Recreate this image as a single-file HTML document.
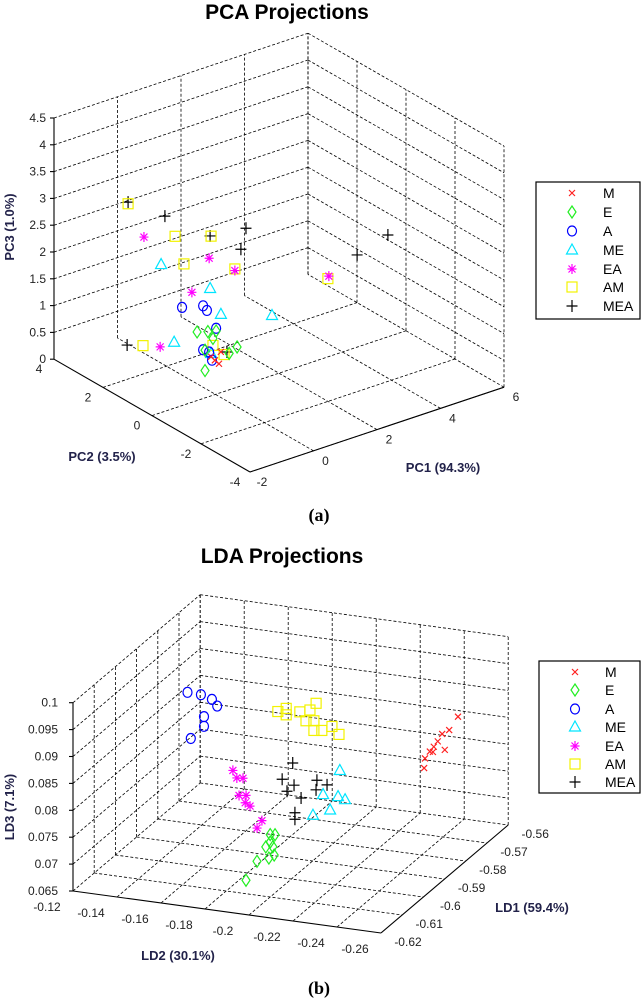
<!DOCTYPE html>
<html><head><meta charset="utf-8"><style>
body{margin:0;background:#fff}
svg{display:block}
text{font-family:"Liberation Sans",sans-serif}
.tk{font-size:12px;fill:#222}
.ttl{font-size:21px;font-weight:bold;fill:#000}
.al{font-size:13px;font-weight:bold;fill:#22224a}
.lg{font-size:14px;fill:#000}
.cap{font-family:"Liberation Serif",serif;font-size:18px;font-weight:bold}
</style></head><body>
<svg id="fig" width="642" height="1000" viewBox="0 0 642 1000" xmlns="http://www.w3.org/2000/svg">
<text class="ttl" x="287" y="19" text-anchor="middle">PCA Projections</text>
<text class="ttl" x="282" y="563" text-anchor="middle">LDA Projections</text>
<text class="cap" x="319" y="521" text-anchor="middle">(a)</text>
<text class="cap" x="319" y="994" text-anchor="middle">(b)</text>
<text class="al" x="443" y="472" text-anchor="middle">PC1 (94.3%)</text>
<text class="al" x="102" y="461" text-anchor="middle">PC2 (3.5%)</text>
<text class="al" x="0" y="0" text-anchor="middle" transform="translate(14,227) rotate(-90)">PC3 (1.0%)</text>
<text class="al" x="532" y="912" text-anchor="middle">LD1 (59.4%)</text>
<text class="al" x="178" y="960" text-anchor="middle">LD2 (30.1%)</text>
<text class="al" x="0" y="0" text-anchor="middle" transform="translate(14,807) rotate(-90)">LD3 (7.1%)</text>
<g id="pca"></g>
<g id="lda"></g>
</svg>
<script>
// ---- PCA data [PC1, PC2, PC3] ----
const classNames = ['M','E','A','ME','EA','AM','MEA'];
const pcaM = [[0.11,0,0.55],[-0.02,0,0.64],[0.17,0,0.76],[-0.14,0,0.73]];
const pcaE = [[-0.58,0,1.28],[-0.24,0,1.22],[0.02,0,1.18],[-0.33,0,0.89],[0.68,0,0.75],[-0.33,0,0.51],[0.43,0,0.68],[-0.08,0,1.06]];
const pcaA = [[0.49,2,1.00],[-0.39,0,1.73],[-0.27,0,1.62],[0.02,0,1.23],[-0.39,0,0.91],[-0.11,0,0.66],[-0.20,0,0.83]];
const pcaME = [[-0.17,2,1.93],[-0.17,0,2.01],[0.17,0,1.46],[1.78,0,1.12],[0.24,2,0.40],[-0.14,0,0.79]];
const pcaEA = [[-0.71,2,2.55],[-0.20,0,2.58],[0.61,0,2.19],[0.80,2,1.22],[3.57,0,1.50],[-0.20,2,0.40]];
const pcaAM = [[-1.21,2,3.27],[0.27,2,2.37],[-0.14,0,2.98],[0.55,2,1.80],[0.61,0,2.22],[3.54,0,1.46],[-0.74,2,0.53],[0.27,0,0.69],[-0.08,0,0.93]];
const pcaMEA = [[-1.21,2,3.30],[-0.05,2,2.81],[-0.17,0,2.99],[0.96,0,2.91],[0.80,0,2.55],[5.43,0,1.90],[4.46,0,1.72],[-1.24,2,0.64],[0.36,0,0.72]];
const pc1Ticks = [-2,0,2,4,6];
const pc2Ticks = [-4,-2,0,2,4];
const pc3Ticks = [0,0.5,1,1.5,2,2.5,3,3.5,4,4.5];
const pc3Labels = ['0','0.5','1','1.5','2','2.5','3','3.5','4','4.5'];
// ---- LDA data [LD1, LD2, LD3] ----
const ldaM = [[-0.565,-0.242,0.0858],[-0.565,-0.238,0.0831],[-0.565,-0.2348,0.0822],[-0.565,-0.2328,0.0807],[-0.565,-0.231,0.0796],[-0.565,-0.2292,0.0786],[-0.565,-0.227,0.0772],[-0.565,-0.2266,0.0754],[-0.565,-0.236,0.0793],[-0.565,-0.2306,0.0786]];
const ldaE = [[-0.61,-0.2,0.0766],[-0.61,-0.2022,0.0767],[-0.61,-0.2,0.0752],[-0.61,-0.2012,0.0744],[-0.61,-0.198,0.0742],[-0.61,-0.2018,0.0729],[-0.61,-0.1994,0.0722],[-0.61,-0.194,0.0713],[-0.61,-0.189,0.0675]];
const ldaA = [[-0.58,-0.1335,0.0893],[-0.58,-0.1396,0.0892],[-0.58,-0.1446,0.0886],[-0.58,-0.147,0.0875],[-0.58,-0.141,0.0852],[-0.58,-0.141,0.0834],[-0.58,-0.135,0.0808]];
const ldaME = [[-0.6,-0.222,0.0864],[-0.6,-0.2144,0.0815],[-0.6,-0.2212,0.0815],[-0.6,-0.2244,0.0811],[-0.6,-0.2176,0.0788],[-0.6,-0.2098,0.0774]];
const ldaEA = [[-0.6,-0.1734,0.0837],[-0.6,-0.1752,0.0824],[-0.6,-0.178,0.0825],[-0.6,-0.1762,0.0792],[-0.6,-0.1794,0.0794],[-0.6,-0.179,0.078],[-0.6,-0.1812,0.0775],[-0.6,-0.1866,0.0751],[-0.6,-0.1844,0.0736]];
const ldaAM = [[-0.59,-0.1842,0.0919],[-0.59,-0.188,0.0927],[-0.59,-0.188,0.0915],[-0.59,-0.1942,0.0924],[-0.59,-0.1988,0.093],[-0.59,-0.2016,0.0944],[-0.59,-0.197,0.0909],[-0.59,-0.2006,0.0911],[-0.59,-0.2006,0.0893],[-0.59,-0.2042,0.0895],[-0.59,-0.2088,0.0905],[-0.59,-0.212,0.0892]];
const ldaMEA = [[-0.6,-0.2006,0.0866],[-0.6,-0.1958,0.0833],[-0.6,-0.2012,0.0825],[-0.6,-0.198,0.0812],[-0.6,-0.2044,0.0803],[-0.6,-0.2116,0.084],[-0.6,-0.2162,0.0834],[-0.6,-0.2112,0.0822],[-0.6,-0.2016,0.0774],[-0.6,-0.2016,0.0762]];
const ld1Ticks = [-0.62,-0.61,-0.6,-0.59,-0.58,-0.57,-0.56];
const ld1Labels = ['-0.62','-0.61','-0.6','-0.59','-0.58','-0.57','-0.56'];
const ld2Ticks = [-0.12,-0.14,-0.16,-0.18,-0.2,-0.22,-0.24,-0.26];
const ld2Labels = ['-0.12','-0.14','-0.16','-0.18','-0.2','-0.22','-0.24','-0.26'];
const ld3Ticks = [0.065,0.07,0.075,0.08,0.085,0.09,0.095,0.1];
const ld3Labels = ['0.065','0.07','0.075','0.08','0.085','0.09','0.095','0.1'];

const NS = 'http://www.w3.org/2000/svg';
function mk(parent, tag, attrs){
  const e = document.createElementNS(NS, tag);
  for (const k in attrs) e.setAttribute(k, attrs[k]);
  parent.appendChild(e);
  return e;
}
function pcaP(a,b,z){ return [250 + 31.75*(a+2) - 24.5*(b+4), 472 - 10.6*(a+2) - 14.1*(b+4) - 53.6*z]; }
function ldaP(l1,l2,l3){ const u=(-0.12-l2)/0.02, v=(l1+0.62)/0.01, w=(l3-0.065)/0.005; return [73+44*u+21.2*v, 891+6*u-18*v-26.9*w]; }

function line(g, p, q, dashed, name){
  const e = mk(g,'line',{x1:p[0],y1:p[1],x2:q[0],y2:q[1],stroke:'#000','stroke-width':dashed?0.8:1.1,'stroke-dasharray':dashed?'3,2':'none'});
  
  
}
function txt(g, x, y, s, cls, anchor, name){
  const e = mk(g,'text',{x:x,y:y,'class':cls,'text-anchor':anchor});
  e.textContent = s;
  
  
}
const colors = {M:'#ff2020',E:'#22ee22',A:'#0000ff',ME:'#00e5ff',EA:'#ff00ff',AM:'#f2f200',MEA:'#000'};
function marker(g, cls, x, y, name){
  const m = mk(g,'g',{stroke:colors[cls],fill:'none','stroke-width':1.2,transform:'translate('+x+','+y+')'});
  
  
  if(cls==='M'){ mk(m,'path',{d:'M-3,-3L3,3M-3,3L3,-3'}); }
  else if(cls==='E'){ mk(m,'polygon',{points:'0,-6 4,0 0,6 -4,0'}); }
  else if(cls==='A'){ mk(m,'ellipse',{cx:0,cy:0,rx:4.5,ry:5}); }
  else if(cls==='ME'){ mk(m,'polygon',{points:'0,-6 5.5,4 -5.5,4'}); }
  else if(cls==='EA'){ mk(m,'path',{d:'M-4.5,0L4.5,0M0,-5L0,5M-3.5,-3.5L3.5,3.5M-3.5,3.5L3.5,-3.5'}); }
  else if(cls==='AM'){ mk(m,'rect',{x:-5,y:-5,width:10,height:10}); }
  else { mk(m,'path',{d:'M-5.5,0L5.5,0M0,-6L0,6'}); }
}
function legend(g, x0, y0, w, h, mx, tx, ys, name){
  const lg = mk(g,'g',{});
  
  
  mk(lg,'rect',{x:x0,y:y0,width:w,height:h,fill:'#fff',stroke:'#000','stroke-width':1.2});
  classNames.forEach((c,i)=>{
    marker(lg, c, mx, ys[i], 'legend-marker-'+c.toLowerCase());
    txt(lg, tx, ys[i]+5, c, 'lg', 'start', 'legend-label-'+c.toLowerCase());
  });
}

// ---------- PCA ----------
const gp = document.getElementById('pca');
const a0=pc1Ticks[0], a1=pc1Ticks[pc1Ticks.length-1], b0=pc2Ticks[0], b1=pc2Ticks[pc2Ticks.length-1], z0=pc3Ticks[0], z1=pc3Ticks[pc3Ticks.length-1];
pc3Ticks.forEach(z=>{ if(z>z0){ line(gp,pcaP(a0,b1,z),pcaP(a1,b1,z),true,'pca-grid-z'); line(gp,pcaP(a1,b1,z),pcaP(a1,b0,z),true,'pca-grid-z'); }});
pc1Ticks.forEach(a=>{ line(gp,pcaP(a,b1,z0),pcaP(a,b1,z1),true,'pca-grid-pc1-wall'); if(a>a0) line(gp,pcaP(a,b0,z0),pcaP(a,b1,z0),true,'pca-grid-pc1-floor'); });
pc2Ticks.forEach(b=>{ line(gp,pcaP(a1,b,z0),pcaP(a1,b,z1),true,'pca-grid-pc2-wall'); if(b<b1) line(gp,pcaP(a0,b,z0),pcaP(a1,b,z0),true,'pca-grid-pc2-floor'); });
line(gp,pcaP(a0,b1,z0),pcaP(a0,b1,z1),false,'pc3-axis');
line(gp,pcaP(a0,b1,z0),pcaP(a0,b0,z0),false,'pc2-axis');
line(gp,pcaP(a0,b0,z0),pcaP(a1,b0,z0),false,'pc1-axis');
pc3Ticks.forEach((z,i)=>{ const p=pcaP(a0,b1,z); line(gp,p,[p[0]-4,p[1]],false,'pc3-tick'); txt(gp,p[0]-8,p[1]+4,pc3Labels[i],'tk','end','pc3-tick-label'); });
pc2Ticks.forEach(b=>{ const p=pcaP(a0,b,z0); txt(gp,p[0]-15,p[1]+14,String(b),'tk','middle','pc2-tick-label'); });
pc1Ticks.forEach(a=>{ const p=pcaP(a,b0,z0); txt(gp,p[0]+12,p[1]+14,String(a),'tk','middle','pc1-tick-label'); });
const pcaSets = {M:pcaM,E:pcaE,A:pcaA,ME:pcaME,EA:pcaEA,AM:pcaAM,MEA:pcaMEA};
['MEA','AM','EA','ME','A','E','M'].forEach(c=>{ pcaSets[c].forEach(d=>{ const p=pcaP(d[0],d[1],d[2]); marker(gp,c,p[0],p[1],'pca-point-'+c.toLowerCase()); }); });
legend(gp,536,182,104,137,572,603,[193,212,231,250,269,287,306],'pca-legend');

// ---------- LDA ----------
const gl = document.getElementById('lda');
const l10=ld1Ticks[0], l11=ld1Ticks[ld1Ticks.length-1], l20=ld2Ticks[0], l21=ld2Ticks[ld2Ticks.length-1], l30=ld3Ticks[0], l31=ld3Ticks[ld3Ticks.length-1];
ld3Ticks.forEach(z=>{ if(z>l30){ line(gl,ldaP(l10,l20,z),ldaP(l11,l20,z),true,'lda-grid-z'); line(gl,ldaP(l11,l20,z),ldaP(l11,l21,z),true,'lda-grid-z'); }});
ld1Ticks.forEach(a=>{ line(gl,ldaP(a,l20,l30),ldaP(a,l20,l31),true,'lda-grid-ld1-wall'); if(a>l10) line(gl,ldaP(a,l20,l30),ldaP(a,l21,l30),true,'lda-grid-ld1-floor'); });
ld2Ticks.forEach(b=>{ line(gl,ldaP(l11,b,l30),ldaP(l11,b,l31),true,'lda-grid-ld2-wall'); if(b>l21) line(gl,ldaP(l10,b,l30),ldaP(l11,b,l30),true,'lda-grid-ld2-floor'); });
line(gl,ldaP(l10,l20,l30),ldaP(l10,l20,l31),false,'ld3-axis');
line(gl,ldaP(l10,l20,l30),ldaP(l10,l21,l30),false,'ld2-axis');
line(gl,ldaP(l10,l21,l30),ldaP(l11,l21,l30),false,'ld1-axis');
ld3Ticks.forEach((z,i)=>{ const p=ldaP(l10,l20,z); line(gl,p,[p[0]-4,p[1]],false,'ld3-tick'); txt(gl,p[0]-15,p[1]+4,ld3Labels[i],'tk','end','ld3-tick-label'); });
ld2Ticks.forEach((b,i)=>{ const p=ldaP(l10,b,l30); txt(gl,p[0]-26,p[1]+20,ld2Labels[i],'tk','middle','ld2-tick-label'); });
ld1Ticks.forEach((a,i)=>{ const p=ldaP(a,l21,l30); txt(gl,p[0]+27,p[1]+13,ld1Labels[i],'tk','middle','ld1-tick-label'); });
const ldaSets = {M:ldaM,E:ldaE,A:ldaA,ME:ldaME,EA:ldaEA,AM:ldaAM,MEA:ldaMEA};
['MEA','AM','EA','ME','A','E','M'].forEach(c=>{ ldaSets[c].forEach(d=>{ const p=ldaP(d[0],d[1],d[2]); marker(gl,c,p[0],p[1],'lda-point-'+c.toLowerCase()); }); });
legend(gl,539,661,101,132,575,605,[672,690,709,727,746,764,782],'lda-legend');
</script>
</body></html>
